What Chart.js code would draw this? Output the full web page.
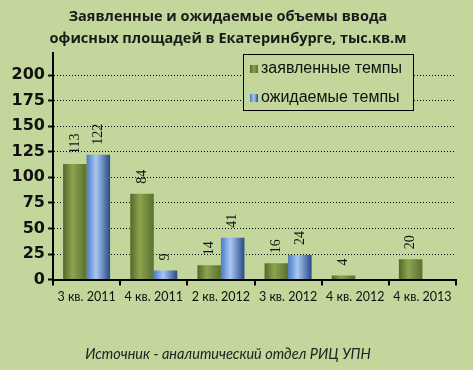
<!DOCTYPE html>
<html>
<head>
<meta charset="utf-8">
<script src="https://cdn.jsdelivr.net/npm/chart.js@4.4.1/dist/chart.umd.min.js"></script>
<style>
  html, body { margin: 0; padding: 0; background: #c3d69b; }
  #wrap { width: 473px; height: 370px; }
</style>
</head>
<body>
<div id="wrap"><canvas id="chart" width="473" height="370"></canvas></div>
<script>
const categories = ["3 кв. 2011", "4 кв. 2011", "2 кв. 2012", "3 кв. 2012", "4 кв. 2012", "4 кв. 2013"];
const declared = [113, 84, 14, 16, 4, 20];
const expected = [122, 9, 41, 24, null, null];
const seriesNames = ["заявленные темпы", "ожидаемые темпы"];
const titleLines = ["Заявленные и ожидаемые объемы ввода", "офисных площадей в Екатеринбурге, тыс.кв.м"];
const sourceNote = "Источник - аналитический отдел РИЦ УПН";

const greenStops = ["#55692a", "#8ba44e", "#5a7030"];
const blueStops = ["#4a7cc6", "#a8c8f2", "#284a86"];

function barFill(context, stops) {
  const chart = context.chart;
  const xs = chart.scales.x;
  if (context.type !== "data" || !xs || !chart.chartArea) return stops[1];
  const w = xs.width / categories.length * 0.7 / 2;
  const cx = xs.getPixelForValue(context.dataIndex) + (context.datasetIndex === 0 ? -w / 2 : w / 2);
  const g = chart.ctx.createLinearGradient(cx - w / 2, 0, cx + w / 2, 0);
  g.addColorStop(0, stops[0]);
  g.addColorStop(0.4, stops[1]);
  g.addColorStop(1, stops[2]);
  return g;
}

const background = {
  id: "background",
  beforeDraw(chart) {
    const ctx = chart.ctx;
    ctx.save();
    ctx.fillStyle = "#c3d69b";
    ctx.fillRect(0, 0, chart.width, chart.height);
    ctx.restore();
  },
};

const valueLabels = {
  id: "valueLabels",
  afterDatasetsDraw(chart) {
    const ctx = chart.ctx;
    ctx.save();
    ctx.font = "14px 'Liberation Serif'";
    ctx.fillStyle = "#111";
    ctx.textAlign = "left";
    ctx.textBaseline = "middle";
    chart.data.datasets.forEach((ds, i) => {
      chart.getDatasetMeta(i).data.forEach((bar, j) => {
        const v = ds.data[j];
        if (v === null || v === undefined) return;
        ctx.save();
        ctx.translate(bar.x, bar.y - 10);
        ctx.rotate(-Math.PI / 2);
        ctx.fillText(String(v), 0, 0);
        ctx.restore();
      });
    });
    ctx.restore();
  },
};

const boxLegend = {
  id: "boxLegend",
  afterDraw(chart) {
    const ctx = chart.ctx;
    const x = 243, y = 54, w = 170, h = 56;
    ctx.save();
    ctx.fillStyle = "#c3d69b";
    ctx.fillRect(x, y, w, h);
    ctx.strokeStyle = "#000";
    ctx.lineWidth = 1;
    ctx.strokeRect(x + 0.5, y + 0.5, w, h);
    ctx.font = "16px 'Liberation Sans'";
    ctx.textBaseline = "middle";
    seriesNames.forEach((name, i) => {
      const cy = y + 15 + i * 29;
      const g = ctx.createLinearGradient(x + 7, 0, x + 15, 0);
      const st = i === 0 ? greenStops : blueStops;
      g.addColorStop(0, st[0]);
      g.addColorStop(0.5, st[1]);
      g.addColorStop(1, st[2]);
      ctx.fillStyle = g;
      ctx.fillRect(x + 7, cy - 4, 8, 8);
      ctx.fillStyle = "#111";
      ctx.fillText(name, x + 18, cy);
    });
    ctx.restore();
  },
};

new Chart(document.getElementById("chart"), {
  type: "bar",
  data: {
    labels: categories,
    datasets: [
      {
        label: seriesNames[0],
        data: declared,
        backgroundColor: (c) => barFill(c, greenStops),
        borderWidth: 0,
        categoryPercentage: 0.7,
        barPercentage: 1,
      },
      {
        label: seriesNames[1],
        data: expected,
        backgroundColor: (c) => barFill(c, blueStops),
        borderWidth: 0,
        categoryPercentage: 0.7,
        barPercentage: 1,
      },
    ],
  },
  options: {
    responsive: false,
    animation: false,
    layout: { padding: { left: 0, right: 17, top: 0, bottom: 0 } },
    plugins: {
      legend: { display: false },
      tooltip: { enabled: false },
      title: {
        display: true,
        text: titleLines,
        color: "#1a1a1a",
        font: { family: "'Open Sans'", size: 14.5, weight: "bold", lineHeight: 1.5 },
        padding: { top: 6, bottom: 3 },
      },
      subtitle: {
        display: true,
        position: "bottom",
        text: sourceNote,
        color: "#222",
        font: { family: "Lato", size: 14.5, style: "italic", lineHeight: 1.2 },
        padding: { top: 0, bottom: 7 },
      },
    },
    scales: {
      x: {
        grid: {
          drawOnChartArea: false,
          drawTicks: true,
          tickLength: 6,
          tickColor: "#000",
          lineWidth: 2,
        },
        border: { display: true, color: "#000", width: 2 },
        ticks: {
          color: "#111",
          padding: 4,
          maxRotation: 0,
          font: { family: "Lato", size: 12.5 },
        },
        afterFit(scale) { scale.height = 66; },
      },
      y: {
        min: 0,
        max: 222,
        afterBuildTicks(scale) {
          scale.ticks = scale.ticks.filter((t) => t.value <= 200 && t.value % 25 === 0);
        },
        afterFit(scale) { scale.width = 53; },
        grid: {
          color: (c) => (c.tick && c.tick.value === 0 ? "rgba(0,0,0,0)" : "#000"),
          lineWidth: 1,
          tickColor: "#000",
          tickLength: 5,
          tickWidth: 2,
          tickBorderDash: [],
        },
        border: { display: true, color: "#000", width: 2, dash: [1, 2] },
        ticks: {
          stepSize: 25,
          color: "#111",
          padding: 3,
          font: { family: "'DejaVu Sans'", size: 16, weight: "bold" },
        },
      },
    },
  },
  plugins: [background, valueLabels, boxLegend],
});
</script>
</body>
</html>
